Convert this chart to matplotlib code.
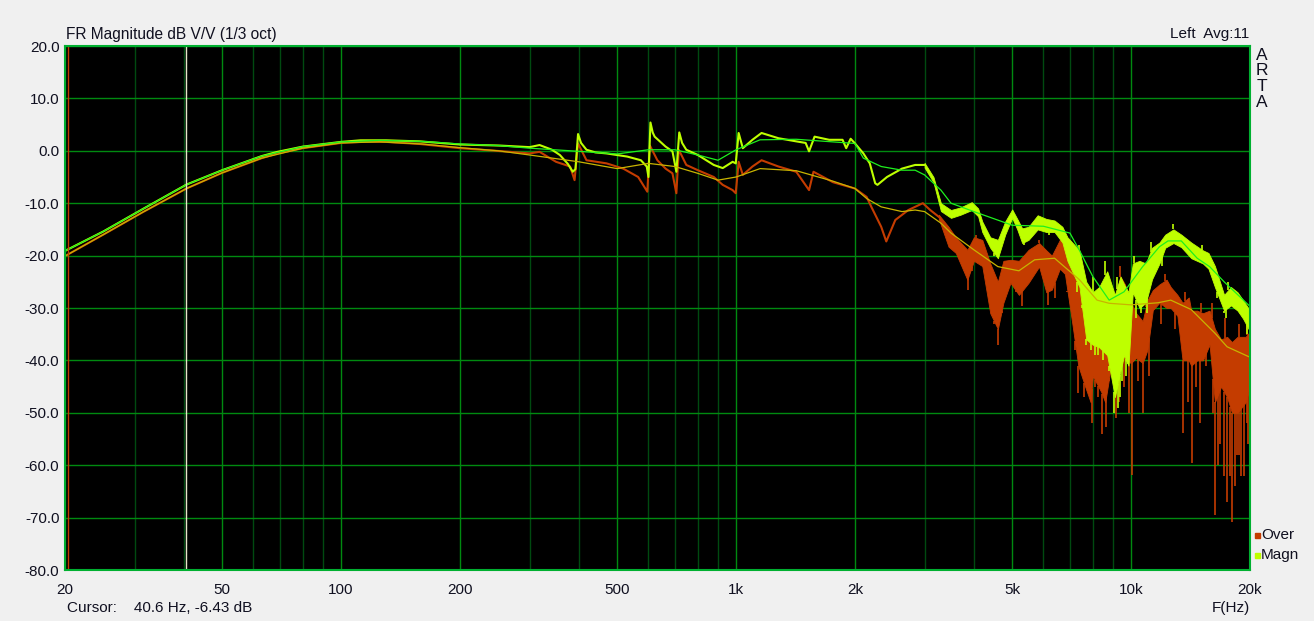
import numpy as np
import matplotlib
matplotlib.use("Agg")
import matplotlib.pyplot as plt
from matplotlib.patches import Rectangle

plt.rcParams['font.family'] = ['Liberation Sans', 'DejaVu Sans']

# ---- data ----
# Magn (raw trace), clean part up to 3 kHz
magn_f = [20, 25, 31.5, 40.6, 50, 63, 69, 80, 100, 112, 130, 158, 200, 252, 300, 318,
          342, 358, 375, 386, 392, 398, 405, 418, 440, 470, 530, 574, 594, 600, 607,
          615, 622, 663, 690, 706, 718, 730, 748, 800, 878, 925, 980, 998, 1015, 1040,
          1100, 1160, 1280, 1420, 1500, 1530, 1580, 1720, 1860, 1900, 1950, 2000, 2100,
          2180, 2250, 2280, 2410, 2630, 2840, 3000]
magn_db = [-19.1, -15.4, -11.1, -6.45, -3.7, -1.0, -0.2, 0.8, 1.7, 2.0, 2.0, 1.8, 1.2, 1.0, 0.7, 1.1,
           0.2, -0.8, -2.5, -4.0, -3.5, 3.2, 1.5, 0.2, -0.3, -0.5, -1.1, -1.8, -3.0, -5.0, 5.4,
           3.5, 2.7, 0.8, -0.1, -4.0, 3.5, 1.5, 0.2, -0.8, -2.7, -3.3, -2.1, -2.4, 3.4, 0.5,
           2.1, 3.4, 2.4, 1.8, 1.5, -0.1, 2.7, 2.1, 2.1, 0.5, 2.3, 1.4, -0.5,
           -2.4, -6.2, -6.5, -5.0, -3.4, -2.7, -2.7]

# Magn noisy band above 3 kHz (lower / upper edge)
magn_band_f = [3000, 3160, 3300, 3500, 3700, 3950, 4100, 4200, 4400, 4600, 4800, 5000, 5150,
               5300, 5500, 5800, 6100, 6400, 6700, 6900, 7400, 7700, 8000, 8300, 8700, 9100,
               9400, 9600, 9850, 10100, 10500, 10900, 11300, 11800, 12200, 12800, 13400,
               14200, 15200, 15700, 16300, 17200, 17900, 18600, 19200, 20000]
magn_lo = [-3.2, -6.0, -11.5, -12.8, -12.2, -11.3, -12.5, -15.5, -18.5, -20.5, -16.0, -12.8, -15.0,
           -17.6, -17.0, -15.0, -15.5, -15.5, -17.5, -21.0, -26.0, -36.0, -37.0, -37.5, -39.0, -47.0,
           -42.0, -39.0, -41.0, -27.0, -30.0, -29.0, -24.5, -21.5, -18.5, -17.6, -18.4,
           -20.5, -21.5, -22.5, -26.0, -30.5, -29.5, -30.5, -32.0, -34.5]
magn_hi = [-2.3, -5.0, -10.0, -11.3, -10.8, -9.8, -11.0, -13.5, -16.5, -17.0, -13.5, -11.2, -13.0,
           -14.8, -14.5, -12.3, -13.0, -13.3, -14.5, -16.5, -19.0, -25.0, -27.0, -26.0, -23.0, -27.5,
           -24.0, -25.5, -27.0, -21.5, -21.0, -21.5, -18.5, -17.5, -16.0, -15.0, -16.0,
           -17.5, -19.0, -19.5, -22.0, -27.5, -26.0, -27.0, -28.5, -30.5]
magn_spike_f = [4500, 5350, 6200, 7300, 7500, 7700, 7900, 8100, 8250, 8500, 8800, 9050, 9250,
                9350, 9500, 9700, 9800, 10300, 10600, 11000, 12000, 16500, 17200, 17400, 19600]
magn_spike_db = [-20, -18, -16, -27, -30, -37, -38, -39, -39, -40, -42, -50, -49,
                 -47, -44, -43, -40, -32, -31, -31, -22, -28, -31, -32, -35]
magn_up_f = [7400, 8000, 8600, 9200, 10200, 11200, 12800, 15100, 17600]
magn_up_db = [-18, -24, -21, -24, -20, -17.5, -14, -18, -25]

# Over (raw trace), clean part up to 3.3 kHz
over_f = [20, 25, 31.5, 40.6, 50, 63, 69, 80, 100, 112, 130, 158, 200, 252, 300, 318,
          350, 380, 390, 398, 418, 470, 518, 565, 596, 605, 632, 663, 690, 706, 716,
          748, 800, 878, 925, 980, 998, 1015, 1040, 1100, 1160, 1280, 1420, 1530, 1570,
          1760, 2000, 2140, 2200, 2330, 2400, 2530, 2730, 2970, 3100, 3260]
over_db = [-20.1, -16.0, -11.7, -7.2, -4.2, -1.4, -0.5, 0.5, 1.5, 1.7, 1.7, 1.3, 0.5, -0.05, -0.5, -0.2,
           -2.1, -3.0, -5.6, 1.4, -1.8, -2.4, -3.4, -5.0, -7.8, 1.0, -1.8, -3.4, -4.3, -8.1, 0.2,
           -2.7, -3.7, -5.0, -6.5, -7.5, -8.1, -2.1, -4.6, -3.0, -1.8, -3.0, -4.0, -7.5, -4.0,
           -6.0, -7.2, -8.8, -10.7, -14.5, -17.3, -13.2, -11.3, -10.0, -11.3, -12.6]

over_band_f = [3260, 3450, 3600, 3850, 4000, 4200, 4400, 4600, 4750, 4950, 5200, 5500, 5850,
               6100, 6300, 6600, 6800, 7100, 7350, 7650, 7900, 8000, 8400, 8600, 8900, 9100,
               9400, 9650, 10000, 10300, 10700, 11000, 11350, 11800, 12300, 12600, 13100,
               13500, 14000, 14200, 14700, 15200, 15800, 16300, 16900, 17500, 18000, 18600,
               19500, 20000]
over_lo = [-13.0, -18.3, -19.5, -24.6, -21.0, -22.0, -31.0, -34.0, -29.0, -25.2, -27.5, -25.2, -22.1,
           -27.0, -26.5, -22.5, -23.5, -33.0, -41.0, -45.0, -48.0, -43.0, -46.0, -48.0, -41.0, -47.0,
           -35.5, -40.0, -40.5, -39.5, -40.5, -38.0, -30.4, -29.0, -30.0, -30.0, -31.5,
           -40.0, -40.0, -41.0, -40.0, -40.0, -37.0, -48.0, -45.0, -47.0, -50.0, -50.0,
           -48.0, -45.0]
over_hi = [-12.2, -14.5, -16.5, -18.9, -16.5, -17.0, -21.5, -25.0, -21.0, -20.8, -21.0, -18.9, -17.6,
           -19.0, -20.0, -17.0, -17.0, -20.5, -25.0, -33.0, -34.0, -29.0, -28.0, -29.0, -26.0, -28.0,
           -24.0, -25.5, -29.0, -31.0, -32.5, -28.5, -26.6, -25.5, -24.6, -26.0, -27.5,
           -29.0, -28.0, -30.5, -30.5, -31.0, -30.5, -34.0, -36.0, -35.5, -36.5, -35.5,
           -35.5, -34.5]
over_spike_f = [3870, 3950, 4500, 4600, 4700, 5100, 5300, 6150, 6400, 6900, 7200, 7350, 7600,
                7950, 8100, 8250, 8450, 8650, 8800, 9150, 9300, 9600, 9900, 10050, 10400,
                10700, 11100, 11900, 12900, 13500, 13900, 14250, 14600, 14900, 15500, 16100,
                16300, 16600, 16800, 17200, 17500, 17800, 18050, 18300, 18500, 18800, 19000,
                19300, 19700, 19800]
over_spike_db = [-26.6, -23, -33, -37.1, -31, -27, -29.7, -29.5, -28, -27, -38, -46.2, -47,
                 -52, -45, -47, -54, -52.7, -44, -51, -48, -45, -50, -61.9, -44,
                 -50, -43, -33, -34, -53.9, -48, -59.5, -45, -52, -41, -50,
                 -69.5, -60, -56, -62, -67, -62, -70.8, -64, -58, -58, -62,
                 -62, -52, -56]
over_up_f = [4050, 5850, 7000, 8100, 9400, 10900, 12200, 13700, 15000, 16000, 17300, 18800, 19700]
over_up_db = [-16, -17, -18.5, -27, -22, -27, -23.5, -27, -29, -29, -32, -33, -33]

# 1/3 octave smoothed curves
magn_s_f = [20, 25, 31.5, 40.6, 50, 63, 80, 100, 125, 160, 200, 250, 300, 400, 500, 600, 700,
            800, 900, 1000, 1150, 1420, 2000, 2100, 2330, 2630, 2840, 3000, 3300, 3500, 4000,
            5000, 6000, 7000, 7400, 8000, 8800, 9600, 10700, 11800, 12400, 13400, 14700,
            15800, 17200, 20000]
magn_s_db = [-19.1, -15.4, -11.1, -6.45, -3.7, -1.0, 0.8, 1.7, 2.0, 1.8, 1.3, 1.0, 0.5, -0.1, -0.6,
             0.2, 0.2, -0.8, -1.8, 0.2, 2.1, 2.2, 1.4, -1.4, -3.0, -3.7, -3.7, -4.6, -7.5, -10.0,
             -11.6, -14.2, -14.4, -15.7, -19.0, -24.0, -28.5, -26.9, -22.1, -18.3, -17.2, -17.2,
             -20.5, -22.1, -25.0, -29.7]
over_s_f = [20, 25, 31.5, 40.6, 50, 63, 80, 100, 125, 160, 200, 250, 300, 400, 500, 600, 700,
            800, 900, 1000, 1150, 1420, 1760, 2000, 2140, 2330, 2630, 2840, 3000, 3300, 3500,
            4000, 4600, 5200, 5700, 6400, 7400, 8200, 8800, 10000, 11700, 12600, 14200,
            16300, 17500, 20000]
over_s_db = [-20.1, -16.0, -11.7, -7.2, -4.2, -1.4, 0.5, 1.5, 1.7, 1.3, 0.6, 0.0, -0.8, -2.1, -3.4,
             -2.4, -3.0, -4.3, -5.6, -5.0, -3.4, -3.8, -5.8, -7.2, -9.1, -10.7, -11.6, -11.3,
             -11.6, -13.8, -15.7, -18.9, -22.1, -22.9, -20.8, -20.5, -24.6, -28.5, -29.1, -29.4,
             -29.0, -28.5, -30.3, -34.8, -37.4, -39.4]

x_ticks = [20, 50, 100, 200, 500, 1000, 2000, 5000, 10000, 20000]
x_labels = ['20', '50', '100', '200', '500', '1k', '2k', '5k', '10k', '20k']
minor_ticks = [30, 40, 60, 70, 80, 90, 300, 400, 600, 700, 800, 900,
               3000, 4000, 6000, 7000, 8000, 9000]
y_ticks = list(range(-80, 21, 10))
cursor_f = 40.6
marker_f = 20.3

# ---- colours ----
over_col = '#C43C00'
magn_col = '#BEFF00'
magn_s_col = '#1EF01E'
over_s_col = '#C8B400'
major_col = '#008A10'
minor_col = '#004A10'


def draw_trace(ax, f, db, band_f, lo, hi, dn_f, dn_db, up_f, up_db, col, z):
    ax.plot(f, db, color=col, lw=1.5, zorder=z)
    ax.fill_between(band_f, lo, hi, color=col, lw=0.6, zorder=z)
    lf = np.log10(band_f)
    base = np.interp(np.log10(dn_f), lf, lo)
    ax.vlines(dn_f, dn_db, base, color=col, lw=1.2, zorder=z)
    base = np.interp(np.log10(up_f), lf, hi)
    ax.vlines(up_f, base, up_db, color=col, lw=1.2, zorder=z)


fig = plt.figure(figsize=(13.14, 6.21), dpi=100, facecolor='#F0F0F0')
ax = fig.add_axes([65 / 1314, 51 / 621, 1185 / 1314, 524 / 621])
ax.set_facecolor('black')
ax.set_xscale('log')
ax.set_xlim(20, 20000)
ax.set_ylim(-80, 20)

# grid
for f in minor_ticks:
    ax.axvline(f, color=minor_col, lw=1, zorder=1)
for f in x_ticks:
    ax.axvline(f, color=major_col, lw=1, zorder=1)
for v in y_ticks:
    ax.axhline(v, color=major_col, lw=1, zorder=1)

draw_trace(ax, over_f, over_db, over_band_f, over_lo, over_hi,
           over_spike_f, over_spike_db, over_up_f, over_up_db, over_col, 3)
draw_trace(ax, magn_f, magn_db, magn_band_f, magn_lo, magn_hi,
           magn_spike_f, magn_spike_db, magn_up_f, magn_up_db, magn_col, 4)

# smoothed
ax.plot(over_s_f, over_s_db, color=over_s_col, lw=0.9, zorder=5)
ax.plot(magn_s_f, magn_s_db, color=magn_s_col, lw=0.9, zorder=5)

# cursor lines
ax.axvline(marker_f, color=over_col, lw=1, zorder=6)
ax.axvline(cursor_f, color='#E6E6C8', lw=1, zorder=6)

ax.set_xticks(x_ticks)
ax.set_xticklabels(x_labels)
ax.set_xticks([], minor=True)
ax.set_yticks(y_ticks)
ax.set_yticklabels(['%.1f' % v for v in y_ticks])
ax.tick_params(axis='both', length=0, labelsize=11, colors='#101020')
ax.tick_params(axis='x', pad=9)
ax.tick_params(axis='y', pad=4)
for s in ax.spines.values():
    s.set_color('#00B030')
    s.set_linewidth(1.5)
    s.set_zorder(7)

# texts around the plot
fig.text(66 / 1314, 1 - 34 / 621, 'FR Magnitude dB V/V (1/3 oct)', fontsize=11.2,
         ha='left', va='center', color='#101020')
fig.text(1249 / 1314, 1 - 34 / 621, 'Left  Avg:11', fontsize=11,
         ha='right', va='center', color='#101020')
for i, ch in enumerate('ARTA'):
    fig.text(1262 / 1314, 1 - (55 + 15.7 * i) / 621, ch, fontsize=12.5,
             ha='center', va='center', color='#101020')
fig.text(67 / 1314, 1 - 608 / 621, 'Cursor:    40.6 Hz, -6.43 dB', fontsize=11,
         ha='left', va='center', color='#101020')
fig.text(1250 / 1314, 1 - 608 / 621, 'F(Hz)', fontsize=11,
         ha='right', va='center', color='#101020')

# legend
for name, col, yy in [('Over', over_col, 535), ('Magn', magn_col, 555)]:
    fig.add_artist(Rectangle((1255 / 1314, 1 - (yy + 3) / 621), 5 / 1314, 5 / 621,
                             transform=fig.transFigure, color=col))
    fig.text(1261 / 1314, 1 - yy / 621, name, fontsize=11, ha='left', va='center',
             color='#101020')

fig.savefig('out.png', dpi=100, facecolor=fig.get_facecolor())
